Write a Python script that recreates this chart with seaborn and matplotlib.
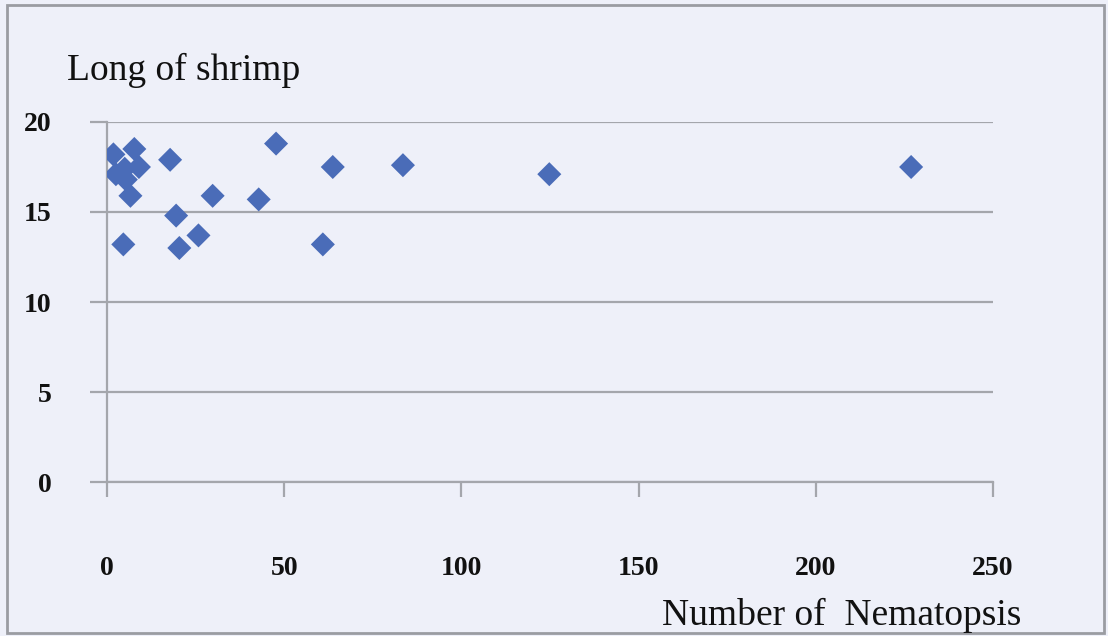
import matplotlib
matplotlib.use("Agg")
import matplotlib.pyplot as plt
import seaborn as sns
import pandas as pd
from matplotlib.patches import Rectangle

# Data
nematopsis = [1.8, 7.7, 2.5, 5.0, 9.0, 5.3, 6.6, 4.6, 17.8, 19.5, 20.4, 25.8,
              29.8, 42.8, 47.7, 60.9, 63.7, 83.5, 124.8, 226.9]
shrimp_length = [18.2, 18.5, 17.1, 17.4, 17.5, 16.8, 15.9, 13.2, 17.9, 14.8, 13.0, 13.7,
                 15.9, 15.7, 18.8, 13.2, 17.5, 17.6, 17.1, 17.5]
x_ticks = [0, 50, 100, 150, 200, 250]
y_ticks = [0, 5, 10, 15, 20]
title_text = "Long of shrimp"
xlabel_text = "Number of  Nematopsis"

df = pd.DataFrame({"Nematopsis": nematopsis, "Length": shrimp_length})

sns.set_style("white")
plt.rcParams['font.family'] = ['Liberation Serif', 'DejaVu Serif']

bg = "#EEF0F9"
grid_c = "#A4A6AC"
fig = plt.figure(figsize=(11.08, 6.36), dpi=100, facecolor=bg)
ax = fig.add_axes([0.0966, 0.2421, 0.7996, 0.5661])
ax.set_facecolor(bg)

sns.scatterplot(data=df, x="Nematopsis", y="Length", marker="D", s=150,
                color="#4A6CB8", edgecolor="none", ax=ax, zorder=3)

ax.set_xlim(0, 250)
ax.set_ylim(0, 20)
ax.set_xticks(x_ticks)
ax.set_yticks(y_ticks)
ax.set_xticklabels([str(t) for t in x_ticks], fontsize=20, fontweight="bold", color="#111111")
ax.set_yticklabels([str(t) for t in y_ticks], fontsize=20, fontweight="bold", color="#111111")
ax.yaxis.grid(True, color=grid_c, linewidth=1.6)
ax.xaxis.grid(False)
ax.set_axisbelow(True)
for s in ["top", "right"]:
    ax.spines[s].set_visible(False)
for s in ["left", "bottom"]:
    ax.spines[s].set_color(grid_c)
    ax.spines[s].set_linewidth(1.6)
ax.tick_params(axis="y", left=True, direction="out", length=12, width=1.6, color=grid_c, pad=28)
ax.tick_params(axis="x", bottom=True, direction="out", length=11, width=1.6, color=grid_c, pad=42)
ax.set_xlabel("")
ax.set_ylabel("")

fig.text(67/1108, 1 - 80/636, title_text, fontsize=27, ha="left", va="baseline", color="#111111")
fig.text(1021/1108, 1 - 625/636, xlabel_text, fontsize=27, ha="right", va="baseline", color="#111111")

fig.patches.append(Rectangle((7/1108, 3/636), 1097/1108, 628/636, transform=fig.transFigure,
                             fill=False, edgecolor="#9A9CA2", linewidth=2))

fig.savefig("out.png", dpi=100, facecolor=bg)
